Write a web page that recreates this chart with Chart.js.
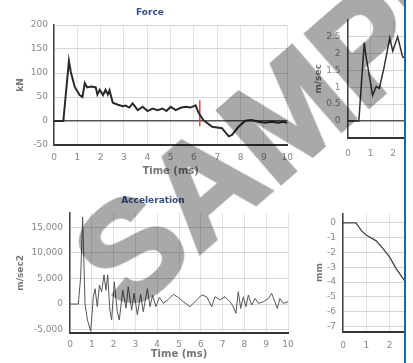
<!DOCTYPE html>
<html><head><meta charset="utf-8">
<script src="https://cdn.jsdelivr.net/npm/chart.js@4.4.1/dist/chart.umd.min.js"></script>
<style>
html,body{margin:0;padding:0;background:#fff;width:413px;height:363px;overflow:hidden;}
#clip{position:absolute;left:0;top:0;width:404px;height:363px;overflow:hidden;background:#fff;}
.box{position:absolute;}
#blue{position:absolute;left:404px;top:0;width:2px;height:363px;background:#1565a8;}
#wm{position:absolute;left:316px;top:89px;transform:translate(-50%,-50%) rotate(-41deg);font:bold 140px "Liberation Sans",Arial,sans-serif;line-height:1;color:#a9a9a9;-webkit-text-stroke:4px #a9a9a9;mix-blend-mode:multiply;white-space:nowrap;pointer-events:none;}
</style></head>
<body>
<div id="clip">
  <div class="box" style="left:0;top:0;width:300px;height:180px"><canvas id="cF" width="300" height="180"></canvas></div>
  <div class="box" style="left:0;top:180px;width:306px;height:183px"><canvas id="cA" width="306" height="183"></canvas></div>
  <div class="box" style="left:300px;top:0;width:290px;height:180px"><canvas id="cV" width="290" height="180"></canvas></div>
  <div class="box" style="left:300px;top:180px;width:290px;height:183px"><canvas id="cD" width="290" height="183"></canvas></div>
  <div id="wm">SAMPLE</div>
</div>
<div id="blue"></div>
<script>
// ---- data ----
const timeTicks = [0,1,2,3,4,5,6,7,8,9,10];

const forceT = [0,0.4,0.64,0.72,0.89,1.1,1.22,1.32,1.42,1.6,1.79,1.86,1.96,2.1,2.21,2.31,2.38,2.52,2.74,2.95,3.06,3.23,3.37,3.59,3.8,4.01,4.23,4.44,4.65,4.82,5.0,5.22,5.43,5.65,5.86,6.07,6.21,6.4,6.78,7.2,7.49,7.63,7.91,8.2,8.48,8.77,9.05,9.33,9.62,9.83,10];
const forceV = [0,0,125,102,71,54,50,79,70,72,70,55,65,54,65,55,64,38,34,31,32,28,36.5,22.7,29.6,20.7,26,22.7,26,20.7,29.6,22.7,27.5,29.6,28,32.8,16,2,-12,-15,-32,-29,-12,0.6,2,-1.4,-3.4,-1.4,-3.4,-1.4,-4];
const markerT = [6.25,6.25];
const markerV = [43,-11];
const forceYTicks = [-50,0,50,100,150,200];

const accT = [0,0.38,0.49,0.58,0.69,0.8,0.95,1.07,1.15,1.25,1.35,1.45,1.56,1.65,1.73,1.83,1.91,2.03,2.17,2.26,2.42,2.57,2.67,2.83,2.94,3.09,3.24,3.36,3.55,3.67,3.79,3.94,4.1,4.28,4.51,4.74,4.97,5.2,5.5,5.73,6.04,6.27,6.5,6.65,6.88,7.11,7.34,7.49,7.61,7.72,7.83,7.95,8.07,8.18,8.33,8.49,8.64,8.87,9.1,9.25,9.4,9.51,9.63,9.79,10];
const accV = [0,0,5300,17000,0,-3100,-5300,1400,3000,-500,3700,2400,5700,2700,5700,-1200,-3100,4350,-1500,-3100,2700,-800,3400,-1200,2100,-2100,1900,-1500,3000,-500,1700,-500,1300,140,900,1900,1300,450,-520,450,1760,1430,-520,1430,780,1430,450,-520,-1820,2400,-850,1430,-520,1760,-200,1100,130,450,1100,2080,450,-850,1100,130,450];
const accYTicks = [-5000,0,5000,10000,15000];

const velT = [0,0.48,0.72,0.8,0.92,1.09,1.25,1.39,1.6,1.85,1.98,2.2,2.42,2.6,2.8];
const velV = [0,0,2.33,1.9,1.45,0.76,1.02,0.97,1.6,2.46,2.08,2.5,1.9,1.85,1.9];
const velYTicks = [0,0.5,1,1.5,2,2.5];

const dispT = [0,0.56,0.8,1.01,1.43,1.71,2.0,2.28,2.63,2.8];
const dispV = [0,0,-0.54,-0.83,-1.21,-1.72,-2.29,-3.07,-3.86,-4.2];
const dispYTicks = [0,-1,-2,-3,-4,-5,-6,-7];

// ---- helpers ----
const pts = (xs, ys) => xs.map((x, i) => ({x: x, y: ys[i]}));
const FONT = 'DejaVu Sans';

const titlePlugin = {
  id: 'fixedTitle',
  afterDraw(chart, args, opts) {
    if (!opts || !opts.text) return;
    const ctx = chart.ctx;
    ctx.save();
    ctx.font = 'bold 9px "' + FONT + '"';
    ctx.fillStyle = '#34508a';
    ctx.textAlign = 'center';
    ctx.textBaseline = 'middle';
    ctx.fillText(opts.text, opts.x, opts.y);
    ctx.restore();
  }
};

function makeChart(id, o) {
  return new Chart(document.getElementById(id), {
    type: 'line',
    data: {datasets: o.datasets},
    options: {
      responsive: false, animation: false, maintainAspectRatio: false,
      layout: {padding: o.pad},
      elements: {point: {radius: 0}, line: {tension: 0}},
      plugins: {legend: {display: false}, tooltip: {enabled: false}, title: {display: false}, fixedTitle: o.title || {}},
      scales: {
        x: {
          type: 'linear', min: 0, max: 10,
          afterFit(s) { s.height = o.xH; },
          afterBuildTicks(s) { s.ticks = timeTicks.map(v => ({value: v})); },
          ticks: {font: {family: FONT, size: 9}, color: '#888', padding: o.xTP, maxRotation: 0, autoSkip: false, callback: v => String(v)},
          grid: {drawTicks: false, color: '#e2e2e2', lineWidth: 1},
          border: {display: true, color: '#333', width: 2},
          title: {display: true, text: 'Time (ms)', font: {family: FONT, size: 10, weight: 'bold'}, color: '#777', padding: {top: 0, bottom: o.xTitlePad}}
        },
        y: {
          type: 'linear', min: o.yMin, max: o.yMax,
          afterFit(s) { s.width = o.yW; },
          afterBuildTicks(s) { s.ticks = o.yTicks.map(v => ({value: v})); },
          ticks: {font: {family: FONT, size: 9}, color: '#888', padding: o.yTP, callback: o.fmt},
          grid: {
            drawTicks: false,
            color: c => (o.zeroDark && c.tick && c.tick.value === 0) ? '#555' : '#d6d6d6',
            lineWidth: c => (o.zeroDark && c.tick && c.tick.value === 0) ? 1.5 : 1
          },
          border: {display: true, color: '#444', width: 1.5},
          title: {display: true, text: o.yTitle, font: {family: FONT, size: 9, weight: 'bold'}, color: '#777', padding: {top: o.yTitlePad, bottom: 0}}
        }
      }
    },
    plugins: [titlePlugin]
  });
}

// Force
makeChart('cF', {
  datasets: [
    {data: pts(forceT, forceV), borderColor: '#2a2a2a', borderWidth: 2},
    {data: pts(markerT, markerV), borderColor: '#e04848', borderWidth: 1.5}
  ],
  pad: {left: 0, top: 25, right: 11, bottom: 0},
  yMin: -50, yMax: 200, yTicks: forceYTicks, yW: 54, xH: 35,
  xTP: 7, yTP: 6, xTitlePad: 3, yTitlePad: 15, zeroDark: true,
  yTitle: 'kN', fmt: v => String(v),
  title: {text: 'Force', x: 150, y: 12.5}
});

// Acceleration
makeChart('cA', {
  datasets: [
    {data: pts(accT, accV), borderColor: '#555', borderWidth: 1}
  ],
  pad: {left: 0, top: 33, right: 18, bottom: 0},
  yMin: -5600, yMax: 17800, yTicks: accYTicks, yW: 70, xH: 30.3,
  xTP: 7, yTP: 7, xTitlePad: 2.5, yTitlePad: 15, zeroDark: false,
  yTitle: 'm/sec2', fmt: v => v.toLocaleString('en-US'),
  title: {text: 'Acceleration', x: 153, y: 20.7}
});

// Velocity (partially visible)
makeChart('cV', {
  datasets: [
    {data: pts(velT, velV), borderColor: '#333', borderWidth: 1.5}
  ],
  pad: {left: 0, top: 20, right: 12, bottom: 0},
  yMin: -0.5, yMax: 3, yTicks: velYTicks, yW: 48, xH: 42.3,
  xTP: 10.5, yTP: 7.5, xTitlePad: 3, yTitlePad: 13, zeroDark: true,
  yTitle: 'm/sec', fmt: v => String(v)
});

// Displacement (partially visible)
makeChart('cD', {
  datasets: [
    {data: pts(dispT, dispV), borderColor: '#444', borderWidth: 1.3}
  ],
  pad: {left: 0, top: 33.3, right: 10, bottom: 0},
  yMin: -7.35, yMax: 0.65, yTicks: dispYTicks, yW: 43, xH: 31.3,
  xTP: 8.8, yTP: 7, xTitlePad: 2.5, yTitlePad: 14.6, zeroDark: false,
  yTitle: 'mm', fmt: v => String(v)
});
</script>
</body></html>
